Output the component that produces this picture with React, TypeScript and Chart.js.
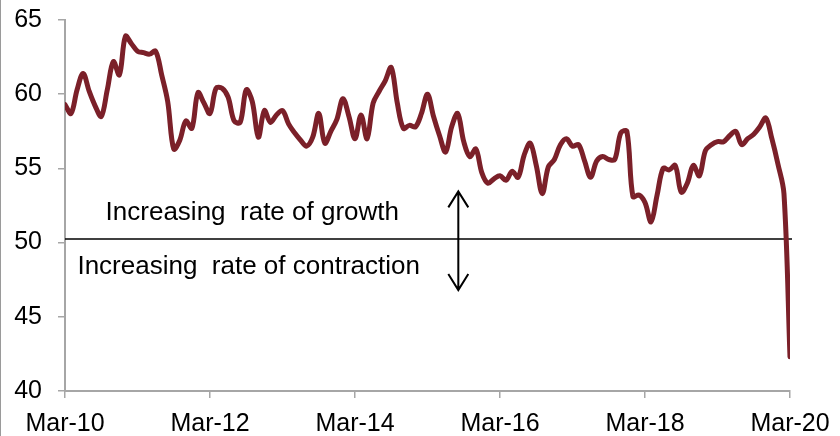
import React, { useEffect, useRef } from 'react';
import { Chart, registerables } from 'chart.js';

Chart.register(...registerables);

// ---- data ----
const xTickLabels = ['Mar-10', 'Mar-12', 'Mar-14', 'Mar-16', 'Mar-18', 'Mar-20'];
const monthsPerTick = 24;
const yMin = 40;
const yMax = 65;
const yStep = 5;

// monthly index values, Mar-10 .. Mar-20
const pmiValues = [
  59.3, 58.7, 60.3, 61.4, 60.2, 59.2, 58.5, 60.3, 62.2, 61.3,
  63.9, 63.4, 62.9, 62.8, 62.7, 62.9, 61.3, 59.5, 56.3, 56.9,
  58.2, 57.7, 60.1, 59.4, 58.7, 60.4, 60.4, 59.8, 58.2, 58.1,
  60.3, 59.5, 57.1, 58.9, 58.1, 58.6, 58.9, 58.0, 57.4, 56.9,
  56.5, 57.1, 58.7, 56.7, 57.5, 58.3, 59.7, 58.5, 57.0, 58.6,
  57.0, 59.4, 60.2, 60.9, 61.8, 59.4, 57.7, 57.9, 57.8, 58.7,
  60.0, 58.5, 57.2, 56.1, 57.8, 58.7, 56.8, 55.8, 56.3, 54.7,
  54.0, 54.3, 54.5, 54.2, 54.8, 54.4, 55.9, 56.7, 55.2, 53.3,
  55.1, 55.6, 56.6, 57.0, 56.5, 56.6, 55.5, 54.4, 55.5, 55.8,
  55.6, 55.6, 57.4, 57.5, 53.1, 53.2, 52.7, 51.4, 53.2, 55.0,
  54.9, 55.2, 53.4, 54.0, 55.2, 54.5, 56.2, 56.6, 56.8, 56.8,
  57.2, 57.5, 56.6, 57.0, 57.3, 57.8, 58.4, 57.0, 55.3, 53.3,
  42.3,
];

const thresholdValue = 50.25;
const growthLabel = 'Increasing  rate of growth';
const contractionLabel = 'Increasing  rate of contraction';

// annotation anchors in data coordinates (month index, value)
const growthAnchor = { x: 31, y: 52.0 };
const contractionAnchor = { x: 30.4, y: 48.4 };
const arrowAnchor = { x: 65.1, top: 53.45, bottom: 46.8 };

const FONT = '"Liberation Sans", Arial, sans-serif';
const LINE_COLOR = '#7b2029';
const AXIS_COLOR = '#a6a6a6';

const annotationPlugin = {
  id: 'pmiAnnotations',
  beforeDatasetsDraw(chart: any) {
    const { ctx, scales } = chart;
    const xs = scales.x;
    const ys = scales.y;
    ctx.save();
    // threshold line
    const y50 = ys.getPixelForValue(thresholdValue);
    ctx.strokeStyle = '#000';
    ctx.lineWidth = 1.5;
    ctx.beginPath();
    ctx.moveTo(xs.left, y50);
    ctx.lineTo(xs.right + 2, y50);
    ctx.stroke();

    // texts
    ctx.fillStyle = '#000';
    ctx.font = `26px ${FONT}`;
    ctx.textAlign = 'center';
    ctx.textBaseline = 'middle';
    ctx.fillText(growthLabel, xs.getPixelForValue(growthAnchor.x), ys.getPixelForValue(growthAnchor.y));
    ctx.fillText(contractionLabel, xs.getPixelForValue(contractionAnchor.x), ys.getPixelForValue(contractionAnchor.y));

    // double arrow
    const ax = xs.getPixelForValue(arrowAnchor.x);
    const at = ys.getPixelForValue(arrowAnchor.top);
    const ab = ys.getPixelForValue(arrowAnchor.bottom);
    ctx.lineWidth = 2;
    ctx.beginPath();
    ctx.moveTo(ax, at);
    ctx.lineTo(ax, ab);
    ctx.moveTo(ax - 10, at + 16);
    ctx.lineTo(ax, at);
    ctx.lineTo(ax + 10, at + 16);
    ctx.moveTo(ax - 10, ab - 16);
    ctx.lineTo(ax, ab);
    ctx.lineTo(ax + 10, ab - 16);
    ctx.stroke();

    ctx.restore();
  },
  afterDraw(chart: any) {
    const { ctx } = chart;
    ctx.save();
    ctx.fillStyle = '#9a9a9a';
    ctx.fillRect(0, 0, 1, chart.height);
    ctx.restore();
  },
};

export default function App() {
  const canvasRef = useRef<HTMLCanvasElement | null>(null);

  useEffect(() => {
    const canvas = canvasRef.current;
    if (!canvas) return;
    const data = pmiValues.map((v, i) => ({ x: i, y: v }));
    const chart = new Chart(canvas, {
      type: 'line',
      data: {
        datasets: [
          {
            data,
            borderColor: LINE_COLOR,
            borderWidth: 5,
            pointRadius: 0,
            tension: 0.35,
            fill: false,
            borderCapStyle: 'round',
            borderJoinStyle: 'round',
          },
        ],
      },
      options: {
        animation: false,
        responsive: false,
        devicePixelRatio: 1,
        layout: { padding: { top: 20, right: 50, left: 0, bottom: 0 } },
        plugins: {
          legend: { display: false },
          tooltip: { enabled: false },
        },
        scales: {
          x: {
            type: 'linear',
            min: 0,
            max: (xTickLabels.length - 1) * monthsPerTick,
            offset: false,
            afterFit: (s: any) => { s.height = 45; s.paddingRight = 0; s.paddingLeft = 0; },
            afterBuildTicks: (s: any) => {
              s.ticks = xTickLabels.map((_, i) => ({ value: i * monthsPerTick }));
            },
            ticks: {
              autoSkip: false,
              maxRotation: 0,
              padding: 11,
              color: '#000',
              font: { family: FONT, size: 25 },
              callback: (v: any) => xTickLabels[Math.round(Number(v) / monthsPerTick)] ?? '',
            },
            grid: {
              drawOnChartArea: false,
              drawTicks: true,
              tickLength: 7,
              color: AXIS_COLOR,
              lineWidth: 1.5,
            },
            border: { color: AXIS_COLOR, width: 2 },
          },
          y: {
            min: yMin,
            max: yMax,
            afterFit: (s: any) => { s.width = 65; s.paddingTop = 0; s.paddingBottom = 0; },
            ticks: {
              stepSize: yStep,
              padding: 16,
              color: '#000',
              font: { family: FONT, size: 25 },
            },
            grid: {
              drawOnChartArea: false,
              drawTicks: true,
              tickLength: 7,
              color: AXIS_COLOR,
              lineWidth: 1.5,
            },
            border: { color: AXIS_COLOR, width: 2 },
          },
        },
      },
      plugins: [annotationPlugin],
    } as any);
    return () => chart.destroy();
  }, []);

  return (
    <div style={{ position: 'absolute', left: 0, top: 0, width: 840, height: 436, background: '#fff' }}>
      <canvas ref={canvasRef} width={840} height={436} style={{ display: 'block', width: 840, height: 436 }} />
    </div>
  );
}
